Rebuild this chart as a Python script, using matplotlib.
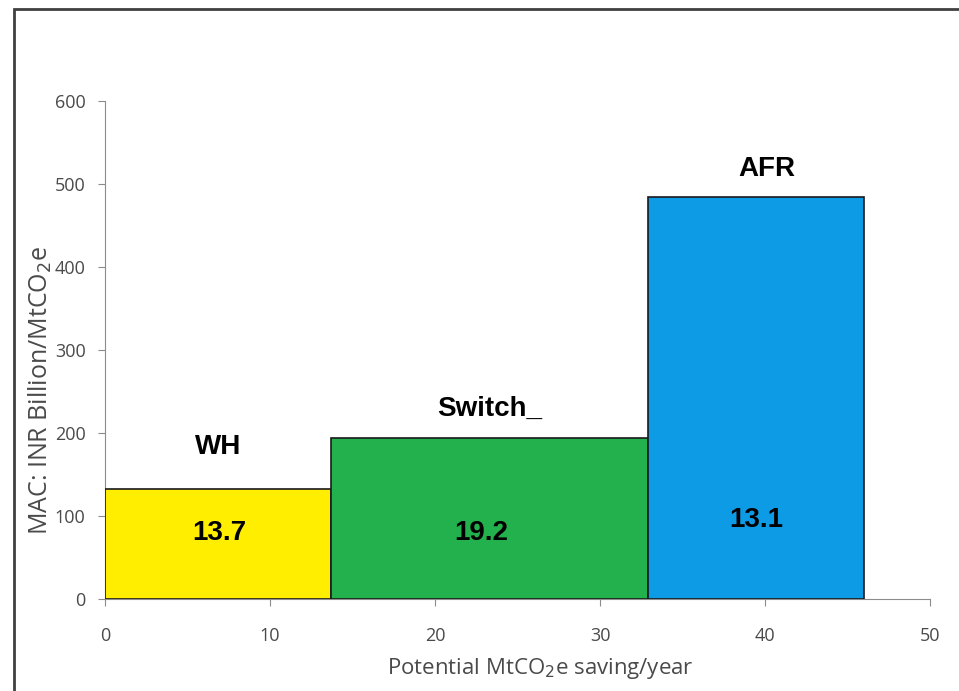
import matplotlib.pyplot as plt
from matplotlib.patches import Rectangle

names = ["WH", "Switch_", "AFR"]
widths = [13.7, 19.2, 13.1]
costs = [133, 194, 484]
colors = ["#ffee00", "#22b14c", "#0d9be6"]
name_pos = [(6.85, 183), (23.3, 229), (40.1, 518)]
val_pos = [(6.9, 80), (22.8, 80), (39.45, 95)]

plt.rcParams['font.family'] = ['Open Sans', 'DejaVu Sans']

fig = plt.figure(figsize=(9.59, 6.91), dpi=100)
ax = fig.add_axes([0.1095, 0.1331, 0.8603, 0.7207])

left = 0
for w, c, col in zip(widths, costs, colors):
    ax.bar(left, c, width=w, align='edge', color=col, edgecolor='#1a1a1a', linewidth=1.2, zorder=3)
    left += w

for n, (x, y) in zip(names, name_pos):
    ax.text(x, y, n, ha='center', va='center', fontsize=20, fontweight='bold',
            family='Liberation Sans', zorder=4)
for w, (x, y) in zip(widths, val_pos):
    ax.text(x, y, f"{w}", ha='center', va='center', fontsize=20, fontweight='bold',
            family='Liberation Sans', zorder=4)

ax.set_xlim(0, 50)
ax.set_ylim(0, 600)
ax.set_xticks(range(0, 51, 10))
ax.set_yticks(range(0, 601, 100))
for s in ['top', 'right']:
    ax.spines[s].set_visible(False)
for s in ['left', 'bottom']:
    ax.spines[s].set_color('#8c8c8c')
ax.tick_params(colors='#8c8c8c', labelcolor='#4a4a4a', labelsize=13, length=5)
ax.tick_params(axis='y', pad=9)
ax.tick_params(axis='x', pad=15)
ax.set_xlabel("Potential MtCO$_2$e saving/year", fontsize=16, color='#4a4a4a')
ax.set_ylabel("MAC: INR Billion/MtCO$_2$e", fontsize=18, color='#4a4a4a')
ax.xaxis.set_label_coords(0.528, -0.115)
ax.yaxis.set_label_coords(-0.062, 0.418)

fig.patches.append(Rectangle((14 / 959, -0.05), 1.1, 1 - 9 / 691 + 0.05, transform=fig.transFigure,
                             fill=False, edgecolor='#404040', linewidth=2))

fig.savefig("out.png", dpi=100)
